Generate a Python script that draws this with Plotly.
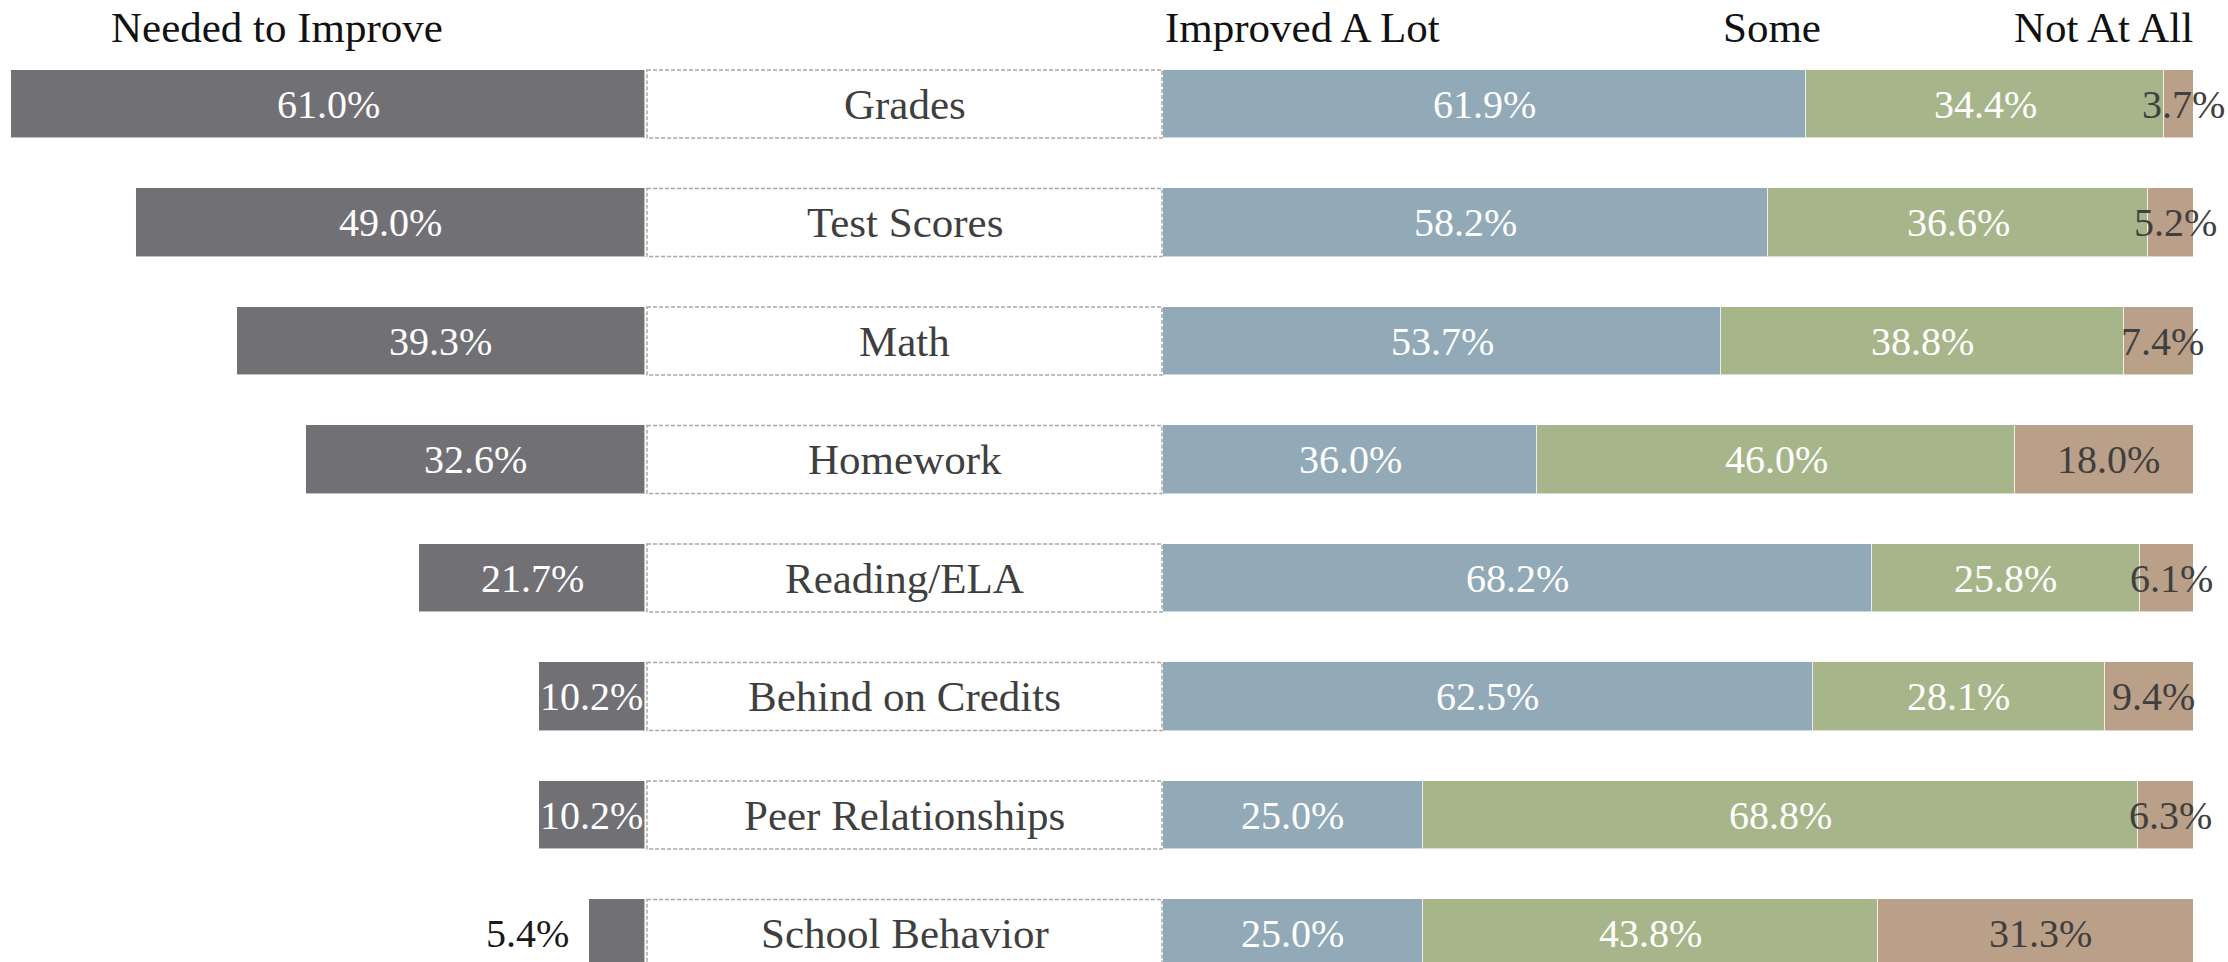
import plotly.graph_objects as go

categories = ["Grades", "Test Scores", "Math", "Homework", "Reading/ELA",
              "Behind on Credits", "Peer Relationships", "School Behavior"]
needed = [61.0, 49.0, 39.3, 32.6, 21.7, 10.2, 10.2, 5.4]
improved_lot = [61.9, 58.2, 53.7, 36.0, 68.2, 62.5, 25.0, 25.0]
improved_some = [34.4, 36.6, 38.8, 46.0, 25.8, 28.1, 68.8, 43.8]
not_at_all = [3.7, 5.2, 7.4, 18.0, 6.1, 9.4, 6.3, 31.3]
headers = ["Needed to Improve", "Improved A Lot", "Some", "Not At All"]

W, H = 2228, 962
FONT = "Liberation Serif"
GRAY, BLUE, GREEN, TAN = "#717075", "#92A9B8", "#A7B68A", "#BAA088"
DARK = "#3f3f3f"

fig = go.Figure()
ypos = list(range(len(categories)))
bw = 0.575
line = dict(color="rgba(255,255,255,0.55)", width=1)

fig.add_trace(go.Bar(y=ypos, x=needed, orientation="h", xaxis="x", yaxis="y",
                     marker=dict(color=GRAY, line=line), width=bw, hoverinfo="skip"))
for vals, col in [(improved_lot, BLUE), (improved_some, GREEN), (not_at_all, TAN)]:
    fig.add_trace(go.Bar(y=ypos, x=vals, orientation="h", xaxis="x2", yaxis="y",
                         marker=dict(color=col, line=line), width=bw, hoverinfo="skip"))

PCT = 40
annotations = []
for i, v in enumerate(needed):
    if v < 8:
        annotations.append(dict(x=v, y=i, xref="x", yref="y", text=f"{v:.1f}%",
                                showarrow=False, xanchor="right", xshift=-18,
                                font=dict(family=FONT, size=PCT, color="#1a1a1a")))
    else:
        annotations.append(dict(x=v / 2, y=i, xref="x", yref="y", text=f"{v:.1f}%",
                                showarrow=False, xanchor="center",
                                font=dict(family=FONT, size=PCT, color="white")))
for i in ypos:
    a, s, n = improved_lot[i], improved_some[i], not_at_all[i]
    for center, val, c in [(a / 2, a, "white"), (a + s / 2, s, "white"), (a + s + n / 2, n, DARK)]:
        annotations.append(dict(x=center, y=i, xref="x2", yref="y", text=f"{val:.1f}%",
                                showarrow=False, xanchor="center",
                                font=dict(family=FONT, size=PCT, color=c)))
    annotations.append(dict(x=904.5 / W, y=i, xref="paper", yref="y", text=categories[i],
                            showarrow=False, xanchor="center",
                            font=dict(family=FONT, size=43, color=DARK)))

hx = [277 / W, 1302 / W, 1772 / W, 2103 / W]
for t, x in zip(headers, hx):
    annotations.append(dict(x=x, y=1 - 27 / H, xref="paper", yref="paper", text=t,
                            showarrow=False, xanchor="center", yanchor="middle",
                            font=dict(family=FONT, size=43, color="#111111")))

shapes = []
for i in ypos:
    shapes.append(dict(type="rect", xref="paper", yref="y", x0=647 / W, x1=1162 / W,
                       y0=i - bw / 2, y1=i + bw / 2, fillcolor="white",
                       line=dict(color="#a8a8a8", width=1.5, dash="4px,2px")))

left_px = 645
px_per_unit = (left_px - 11) / needed[0]
left_max = left_px / px_per_unit
right_max = (2193 - 1163) / px_per_unit
y_top = -104 / 118.5
y_bot = y_top + H / 118.5

fig.update_layout(
    width=W, height=H, margin=dict(l=0, r=0, t=0, b=0),
    paper_bgcolor="white", plot_bgcolor="white", showlegend=False,
    barmode="stack", bargap=0,
    xaxis=dict(domain=[0, left_px / W], range=[left_max, 0], visible=False, fixedrange=True),
    xaxis2=dict(domain=[1163 / W, 2193 / W], range=[0, right_max], visible=False, fixedrange=True),
    yaxis=dict(range=[y_bot, y_top], visible=False, fixedrange=True),
    annotations=annotations, shapes=shapes,
)
fig.write_html("out.html", config={"displayModeBar": False},
               post_script="document.body.style.margin='0';document.body.style.overflow='hidden';")
